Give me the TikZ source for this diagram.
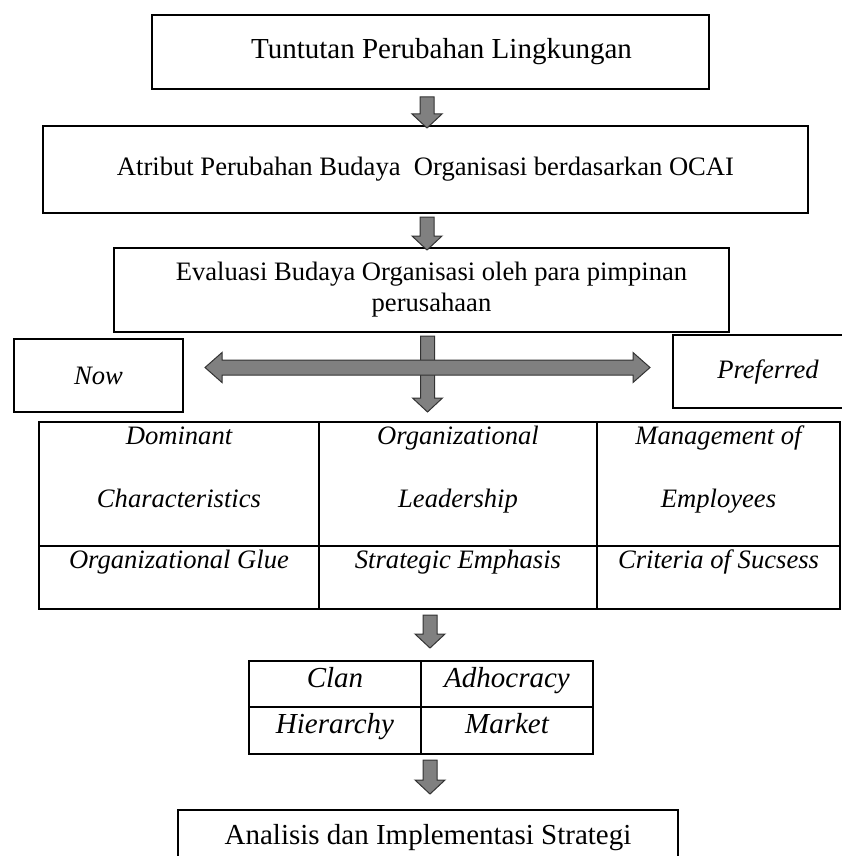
\documentclass[tikz,border=0pt]{standalone}
\usepackage{fontspec}
\setmainfont{Liberation Serif}
\usetikzlibrary{calc}
\definecolor{arrowgray}{RGB}{128,128,128}
\newcommand{\bigtxt}{\fontsize{29}{33}\selectfont}
\newcommand{\smalltxt}{\fontsize{26.6}{31}\selectfont}
\begin{document}
\begin{tikzpicture}[x=1pt,y=-1pt,
    box/.style={draw, line width=2.5pt, inner sep=0pt, outer sep=0pt, align=center},
    cell/.style={draw, line width=2pt, inner sep=0pt, outer sep=0pt, anchor=north, align=center},
    flowdown/.style={draw=black!80, fill=arrowgray, line width=1pt,
      to path={let \p1=(\tikztostart), \p2=(\tikztotarget) in
        (\x1-7pt,\y1) -- (\x1+7pt,\y1) -- (\x1+7pt,\y2+14pt) -- (\x1+15pt,\y2+14pt)
        -- (\x1,\y2) -- (\x1-15pt,\y2+14pt) -- (\x1-7pt,\y2+14pt) -- cycle}},
    flowboth/.style={draw=black!80, fill=arrowgray, line width=1pt,
      to path={let \p1=(\tikztostart), \p2=(\tikztotarget) in
        (\x1,\y1) -- (\x1+17pt,\y1+15pt) -- (\x1+17pt,\y1+7.5pt) -- (\x2-17pt,\y1+7.5pt)
        -- (\x2-17pt,\y1+15pt) -- (\x2,\y1) -- (\x2-17pt,\y1-15pt) -- (\x2-17pt,\y1-7.5pt)
        -- (\x1+17pt,\y1-7.5pt) -- (\x1+17pt,\y1-15pt) -- cycle}}]
  \useasboundingbox (0,0) rectangle (842,856);
  \clip (0,0) rectangle (842,856);

  \node[box, font=\bigtxt, minimum width=557, minimum height=74] (tuntutan) at (430.5,52) {\hspace*{22pt}Tuntutan Perubahan Lingkungan};
  \node[box, font=\smalltxt, minimum width=765, minimum height=87] (atribut) at (425.5,169.5) {Atribut Perubahan Budaya~ Organisasi berdasarkan OCAI};
  \node[box, font=\smalltxt, minimum width=615, minimum height=84] (evaluasi) at (421.5,290) {\hspace*{20pt}Evaluasi Budaya Organisasi oleh para pimpinan\\\hspace*{20pt}perusahaan};
  \node[box, font=\smalltxt\itshape, minimum width=169, minimum height=73] (now) at (98.5,375.5) {Now};
  \node[box, font=\smalltxt\itshape, minimum width=190, minimum height=73] (pref) at (768,371.5) {Preferred};

  \begin{scope}[font=\fontsize{26.6}{63}\selectfont\itshape]
    \node[cell, minimum width=280, text height=85, text depth=39] (dom) at (179,422) {Dominant\\Characteristics};
    \node[cell, minimum width=278, text height=85, text depth=39] (lead) at (458,422) {Organizational\\Leadership};
    \node[cell, minimum width=243, text height=85, text depth=39] (man) at (718.5,422) {Management of\\Employees};
    \node[cell, minimum width=280, text height=22, text depth=41] (glue) at (179,546) {Organizational Glue};
    \node[cell, minimum width=278, text height=22, text depth=41] (emph) at (458,546) {Strategic Emphasis};
    \node[cell, minimum width=243, text height=22, text depth=41] (crit) at (718.5,546) {Criteria of Sucsess};
  \end{scope}

  \begin{scope}[font=\bigtxt\itshape, text height=26]
    \node[cell, minimum width=172, text depth=20] (clan) at (335,661) {Clan};
    \node[cell, minimum width=172, text depth=20] (adhoc) at (507,661) {Adhocracy};
    \node[cell, minimum width=172, text depth=21] (hier) at (335,707) {Hierarchy};
    \node[cell, minimum width=172, text depth=21] (market) at (507,707) {Market};
  \end{scope}

  \node[box, font=\bigtxt, minimum width=500, minimum height=56] (analisis) at (428,838) {Analisis dan Implementasi Strategi};

  \draw[flowdown] ([shift={(-3.5,8)}]tuntutan.south) to ([shift={(0,2)}]atribut.north);
  \draw[flowdown] ([shift={(1.5,4)}]atribut.south) to ([shift={(0,2)}]evaluasi.north);
  \draw[flowdown] ([shift={(6,4)}]evaluasi.south) to ([shift={(0,-10)}]lead.north);
  \draw[flowboth] ([shift={(22,-8)}]now.east) to ([shift={(-23,-4)}]pref.west);
  \draw[flowdown] ([shift={(-28,6)}]emph.south) to ([shift={(0,-13)}]clan.north);
  \draw[flowdown] ([shift={(95,6)}]hier.south) to ([shift={(0,-16)}]analisis.north);
\end{tikzpicture}
\end{document}
